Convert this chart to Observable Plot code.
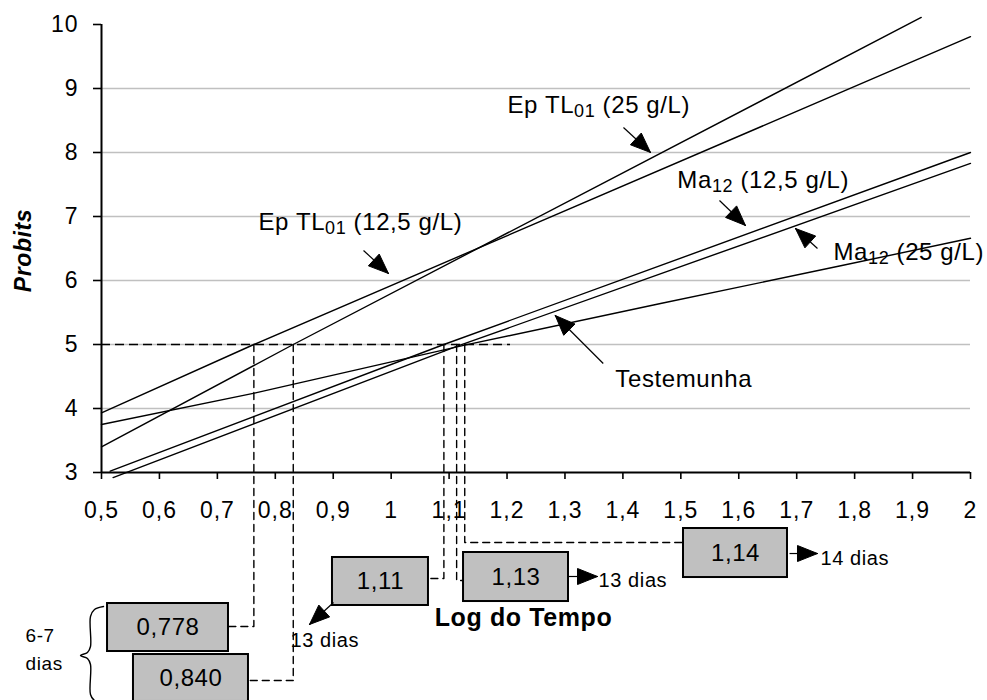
<!DOCTYPE html>
<html><head><meta charset="utf-8">
<script src="https://cdn.jsdelivr.net/npm/d3@7"></script>
<script src="https://cdn.jsdelivr.net/npm/@observablehq/plot@0.6"></script>
<style>body{margin:0;background:#fff;}</style>
</head><body><div id="chart"></div>
<script>
// ---- axes
const xTicks = [0.5,0.6,0.7,0.8,0.9,1,1.1,1.2,1.3,1.4,1.5,1.6,1.7,1.8,1.9,2];
const yTicks = [3,4,5,6,7,8,9,10];
const gridValues = [4,5,6,7,8,9];
const xTitle = "Log do Tempo";
const yTitle = "Probits";

// ---- series (Log do Tempo, Probit)
const seriesNames = ["Ep TL01 (25 g/L)", "Ep TL01 (12,5 g/L)", "Ma12 (12,5 g/L)", "Ma12 (25 g/L)", "Testemunha"];
const epTL01_25  = [[0.5, 3.40], [0.831, 5.0], [1.915, 10.11]];
const epTL01_125 = [[0.5, 3.93], [0.763, 5.0], [2.0, 9.81]];
const ma12_125   = [[0.515, 3.02], [1.091, 5.0], [2.0, 8.0]];
const ma12_25    = [[0.52, 2.92], [1.113, 4.97], [2.0, 7.83]];
const testemunha = [[0.5, 3.75], [0.764, 4.24], [1.127, 4.99], [1.465, 5.64], [1.776, 6.23], [2.0, 6.66]];
const seriesPoints = [epTL01_25, epTL01_125, ma12_125, ma12_25, testemunha];

// ---- probit 5 read-offs
const probit50 = 5;
const probit50LineEnd = 1.206;
const crossX = [0.763, 0.831, 1.091, 1.113, 1.127];
const boxLabels = ["0,778", "0,840", "1,11", "1,13", "1,14"];
const boxX1 = [0.5104, 0.5552, 0.8987, 1.1249, 1.5046];
const boxX2 = [0.7192, 0.7537, 1.0644, 1.3061, 1.6841];
const boxY1 = [0.953, 0.156, 1.672, 1.75, 2.125];
const boxY2 = [0.203, -0.578, 0.922, 0.984, 1.359];
const connectorBendY = [0.594, -0.25, 1.344, 1.3125, 1.906];
const connectorEndX = [0.7192, 0.7537, 1.0644, 1.1249, 1.5046];

// ---- annotations
const labelTexts = ["Ep TL_{01} (25 g/L)", "Ep TL_{01} (12,5 g/L)", "Ma_{12} (12,5 g/L)", "Ma_{12} (25 g/L)", "Testemunha"];
const labelX = [1.2008, 0.771, 1.494, 1.7635, 1.387];
const labelY = [8.734, 6.906, 7.5625, 6.4375, 4.453];
const arrowTail = [[1.401, 8.391], [0.9523, 6.469], [1.5667, 7.25], [1.7359, 6.5], [1.3661, 4.703], [0.9005, 0.969], [1.3061, 1.375], [1.6876, 1.734]];
const arrowTip  = [[1.4477, 8.0], [0.9954, 6.109], [1.6116, 6.859], [1.6979, 6.8125], [1.2832, 5.453], [0.859, 0.625], [1.3562, 1.375], [1.7359, 1.734]];
const noteTexts = ["13 dias", "13 dias", "14 dias"];
const noteX = [0.8262, 1.3579, 1.741];
const noteY = [0.375, 1.3125, 1.656];
const groupTexts = ["6-7", "dias"];
const groupX = [0.3688, 0.3688];
const groupY = [0.453, 0.0156];
const braceX = [0.5035, 0.4879, 0.481, 0.481, 0.4758, 0.4637, 0.4758, 0.481, 0.481, 0.4879, 0.5035];
const braceY = [0.906, 0.859, 0.75, 0.281, 0.1875, 0.141, 0.094, 0.0, -0.469, -0.5625, -0.609];

// ---- layout
const W = 987, H = 700;
const mL = 101, mR = 17, mT = 24, mB = 228;
const xDomain = [0.5, 2], yDomain = [3, 10];
const font = "'Liberation Sans', Arial, sans-serif";

// ---- derived tables
const lineData = seriesNames.flatMap((name, i) => seriesPoints[i].map(([x, y]) => ({name, x, y})));
const connectors = crossX.flatMap((cx, i) => [
  {id: i, x: cx, y: probit50},
  {id: i, x: cx, y: connectorBendY[i]},
  {id: i, x: connectorEndX[i], y: connectorBendY[i]}
]);
const boxes = boxLabels.map((label, i) => ({label, x1: boxX1[i], x2: boxX2[i], y1: boxY1[i], y2: boxY2[i]}));
const labels = labelTexts.map((t, i) => ({t, x: labelX[i], y: labelY[i]}));
const notes = noteTexts.map((t, i) => ({t, x: noteX[i], y: noteY[i]}));
const groups = groupTexts.map((t, i) => ({t, x: groupX[i], y: groupY[i]}));
const braceData = braceX.map((x, i) => ({x, y: braceY[i]}));
const arrows = arrowTail.map((a, i) => ({x1: a[0], y1: a[1], x2: arrowTip[i][0], y2: arrowTip[i][1]}));

const sx = Plot.scale({x: {domain: xDomain, range: [mL, W - mR]}});
const sy = Plot.scale({y: {domain: yDomain, range: [H - mB, mT]}});
const headLen = 20, headHalf = 8;
const heads = arrows.flatMap((a, i) => {
  const tx = sx.apply(a.x1), ty = sy.apply(a.y1), px = sx.apply(a.x2), py = sy.apply(a.y2);
  const dx = px - tx, dy = py - ty, len = Math.hypot(dx, dy);
  const ux = dx / len, uy = dy / len;
  const bx = px - ux * headLen, by = py - uy * headLen;
  const nx = -uy * headHalf, ny = ux * headHalf;
  return [[px, py], [bx + nx, by + ny], [bx - nx, by - ny], [px, py]].map(([X, Y]) => ({id: i, x: sx.invert(X), y: sy.invert(Y)}));
});

const fmt = d => String(d).replace(".", ",");

const chart = Plot.plot({
  width: W, height: H,
  marginLeft: mL, marginRight: mR, marginTop: mT, marginBottom: mB,
  x: {domain: xDomain, axis: null},
  y: {domain: yDomain, axis: null},
  style: {fontFamily: font, fontSize: "21px", background: "#fff", color: "#000", letterSpacing: "0.6px", overflow: "visible"},
  marks: [
    Plot.ruleY(gridValues, {x1: xDomain[0], x2: xDomain[1], stroke: "#c0c0c0", strokeWidth: 1.5}),
    Plot.line(lineData, {x: "x", y: "y", z: "name", stroke: "#000", strokeWidth: 1.4}),
    Plot.ruleY([probit50], {x1: xDomain[0], x2: probit50LineEnd, stroke: "#000", strokeWidth: 1.4, strokeDasharray: "9,5"}),
    Plot.line(connectors, {x: "x", y: "y", z: "id", stroke: "#000", strokeWidth: 1.4, strokeDasharray: "7,5"}),
    Plot.ruleX([xDomain[0]], {y1: yDomain[0], y2: yDomain[1], stroke: "#000", strokeWidth: 2}),
    Plot.ruleY([yDomain[0]], {x1: xDomain[0], x2: xDomain[1], stroke: "#000", strokeWidth: 2}),
    Plot.axisX({ticks: xTicks, tickSize: 7, tickPadding: 22, tickFormat: fmt, fontSize: 23, strokeWidth: 1.6}),
    Plot.axisY({ticks: yTicks, tickSize: 8, tickPadding: 15, tickFormat: fmt, fontSize: 23, strokeWidth: 1.6}),
    Plot.rect(boxes, {x1: "x1", x2: "x2", y1: "y1", y2: "y2", fill: "#c0c0c0", stroke: "#000", strokeWidth: 2}),
    Plot.text(boxes, {x: d => (d.x1 + d.x2) / 2, y: d => (d.y1 + d.y2) / 2, text: "label", fontSize: 24}),
    Plot.text(labels, {x: "x", y: "y", text: "t", textAnchor: "start", fontSize: 24}),
    Plot.text(notes, {x: "x", y: "y", text: "t", textAnchor: "start", fontSize: 20}),
    Plot.text(groups, {x: "x", y: "y", text: "t", textAnchor: "start", fontSize: 19}),
    Plot.line(braceData, {x: "x", y: "y", curve: "catmull-rom", stroke: "#000", strokeWidth: 1.4}),
    Plot.link(arrows, {x1: "x1", y1: "y1", x2: "x2", y2: "y2", stroke: "#000", strokeWidth: 1.2}),
    Plot.line(heads, {x: "x", y: "y", z: "id", fill: "#000", stroke: "#000", strokeWidth: 1}),
    Plot.text([xTitle], {x: 1.2284, y: 0.734, text: d => d, fontSize: 25, fontWeight: "bold"}),
    Plot.text([yTitle], {x: 0.3654, y: 6.469, text: d => d, rotate: -90, fontSize: 23, fontWeight: "bold", fontStyle: "italic"})
  ]
});

// wider spacing on the tick labels
chart.querySelectorAll('g[aria-label$="tick label"]').forEach(g => g.style.letterSpacing = "1px");

// subscripts (e.g. TL_{01}) rendered as tspans
chart.querySelectorAll("text").forEach(t => {
  const s = t.textContent;
  if (!s.includes("_{")) return;
  t.textContent = "";
  s.split(/_\{|\}/).forEach((p, i) => {
    const ts = document.createElementNS("http://www.w3.org/2000/svg", "tspan");
    ts.textContent = p;
    if (i % 2 === 1) { ts.setAttribute("font-size", "18"); ts.setAttribute("dy", "4"); }
    else if (i > 0) { ts.setAttribute("dy", "-4"); }
    t.appendChild(ts);
  });
});
document.getElementById("chart").appendChild(chart);
</script>
</body></html>
